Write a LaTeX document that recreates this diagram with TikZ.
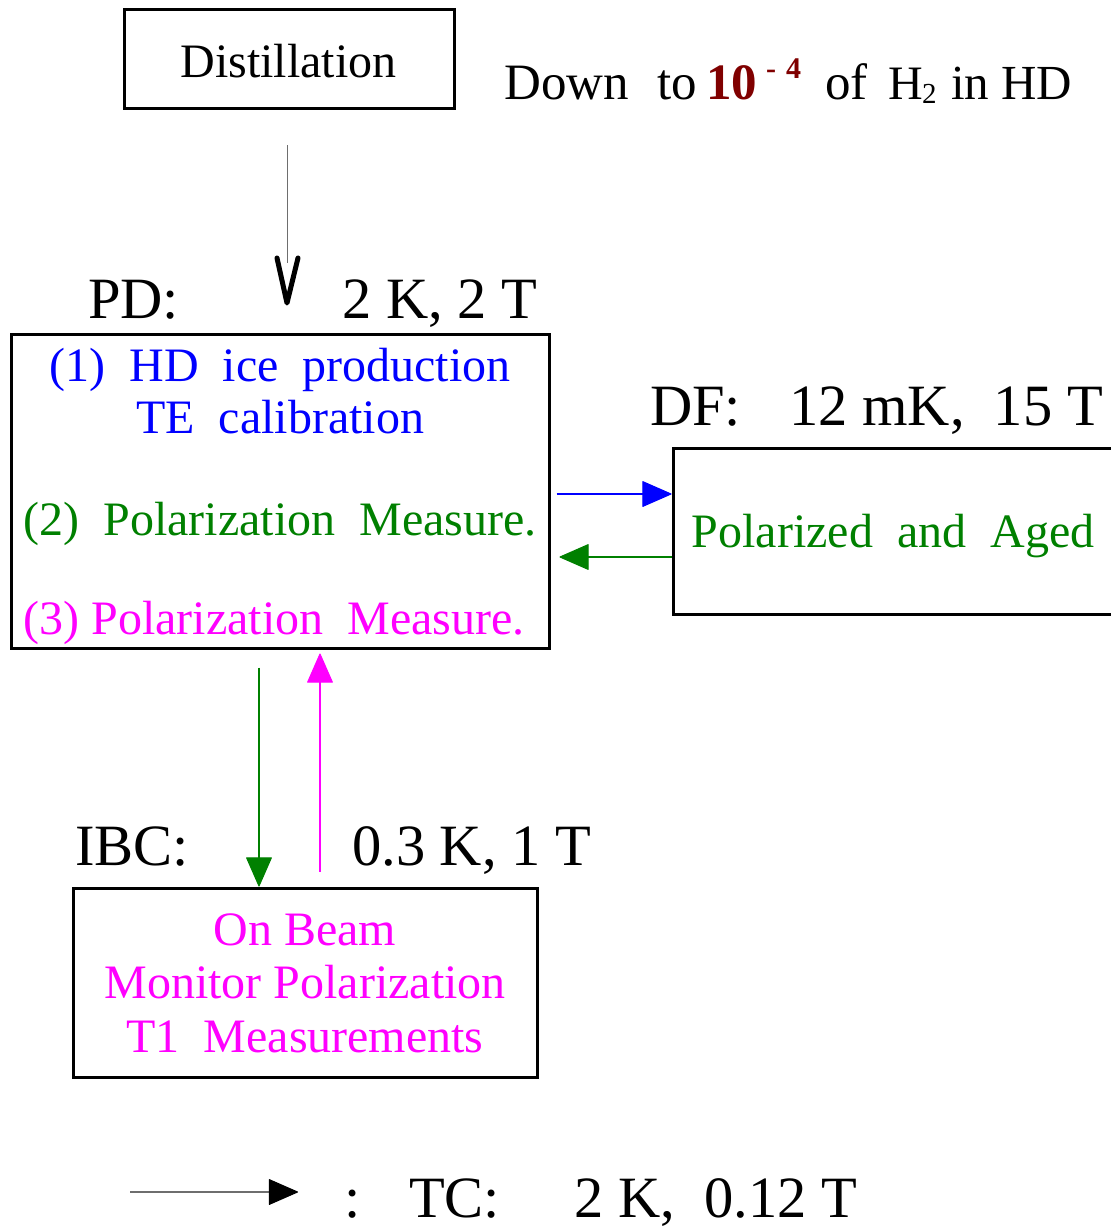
\documentclass[tikz,border=0pt]{standalone}
\usepackage{fontspec}
\setmainfont{Liberation Serif}
\usetikzlibrary{arrows.meta}
\definecolor{pblue}{RGB}{0,0,255}
\definecolor{pgreen}{RGB}{0,128,0}
\definecolor{pmag}{RGB}{255,0,255}
\definecolor{dred}{RGB}{128,0,0}
\definecolor{lgray}{RGB}{110,110,110}
\begin{document}
\begin{tikzpicture}[x=1pt,y=-1pt,
  box/.style={draw=black,line width=3pt,inner sep=0pt,line join=miter},
  txt/.style={inner sep=0pt,anchor=base},
  txtw/.style={inner sep=0pt,anchor=base west},
  big/.style={font=\fontsize{58.5}{60}\selectfont},
  mid/.style={font=\fontsize{48}{52}\selectfont},
  dwn/.style={font=\fontsize{51}{54}\selectfont},
  sml/.style={font=\fontsize{30}{32}\selectfont\bfseries},
  tip/.style={-{Triangle[length=30pt,width=26pt,round]}},
  conn/.style={line width=1.1pt,tip}]
\clip (0,0) rectangle (1111,1229);
\fill[white] (0,0) rectangle (1111,1229);

% boxes
\node[box,minimum width=330pt,minimum height=99pt] (dist) at (289,58.5) {};
\node[box,minimum width=538pt,minimum height=314pt] (pd) at (280,491) {};
\node[box,minimum width=452pt,minimum height=166pt] (df) at (899,531) {};
\node[box,minimum width=464pt,minimum height=189pt] (ibc) at (305,982.5) {};

% Distillation
\node[txt,mid] (tdist) at (288.5,77) {Distillation};

% Down to ... line
\node[txtw,dwn] (tdown) at (504,99) {Down};
\node[txtw,dwn] (tto) at (657,99) {to};
\node[txtw,dwn,text=dred,font=\fontsize{51}{54}\selectfont\bfseries] (tten) at (706,99) {10};
\node[txtw,sml,text=dred] (tminus) at (766,78) {-};
\node[txtw,sml,text=dred] (tfour) at (786,78) {4};
\node[txtw,dwn] (tof) at (825,99) {of};
\node[txtw,font=\fontsize{48}{52}\selectfont] (tH) at (888,99) {H};
\node[txtw,font=\fontsize{29}{32}\selectfont] (tsub) at (922,103) {2};
\node[txtw,font=\fontsize{49}{52}\selectfont] (tin) at (951,99) {in HD};

% Labels
\node[txtw,big] (lpd) at (88,318) {PD:};
\node[txtw,big] (lpdv) at (342,318) {2 K, 2 T};
\node[txtw,big] (ldf) at (650,425) {DF:};
\node[txtw,big] (ldfv) at (789,425) {12 mK,\ \ 15 T};
\node[txtw,big] (libc) at (75,865) {IBC:};
\node[txtw,big] (libcv) at (352,865) {0.3 K, 1 T};
\node[txtw,big] (lcolon) at (344,1217) {:};
\node[txtw,big] (ltc) at (409,1217) {TC:};
\node[txtw,big] (ltcv) at (574,1217) {2 K,\ \ 0.12 T};

% PD box texts
\node[txt,mid,text=pblue] (p1) at (280,381) {(1)\ \ HD\ \ ice\ \ production};
\node[txt,mid,text=pblue] (p1b) at (280,433) {TE\ \ calibration};
\node[txt,mid,text=pgreen] (p2) at (280,535) {(2)\ \ Polarization\ \ Measure.};
\node[txt,mid,text=pmag] (p3) at (274,634) {(3) Polarization\ \ Measure.};

% DF text
\node[txt,mid,text=pgreen] (dft) at (893,547) {Polarized\ \ and\ \ Aged};

% IBC texts
\node[txt,mid,text=pmag] (i1) at (305,945) {On Beam};
\node[txt,mid,text=pmag] (i2) at (305,998) {Monitor Polarization};
\node[txt,mid,text=pmag] (i3) at (305,1052) {T1\ \ Measurements};

% Distillation arrow
\coordinate (ds) at (287,145);
\coordinate (de) at (287,263);
\coordinate (vl) at (277,258);
\coordinate (vt) at (287,303);
\coordinate (vr) at (298,258);
\draw[lgray,line width=1pt] (ds) -- (de);
\draw[black,line width=5pt,line cap=round,line join=round] (vl) -- (vt) -- (vr);

% connectors
\draw[conn,pblue] ([xshift=6pt,yshift=-3pt]pd.east) -- ([yshift=37pt]df.west);
\draw[conn,pgreen] ([yshift=-26pt]df.west) -- ([xshift=9pt,yshift=-66pt]pd.east);
\draw[conn,pgreen] ([xshift=-21pt,yshift=-18pt]pd.south) -- ([xshift=-46pt]ibc.north);
\draw[conn,pmag] ([xshift=15pt,yshift=15pt]ibc.north) -- ([xshift=40pt,yshift=-4pt]pd.south);

% legend arrow
\coordinate (ls) at (130,1192);
\coordinate (le) at (298,1192);
\draw[line width=1.1pt,lgray,-{Triangle[length=30pt,width=26pt,round,color=black]}] (ls) -- (le);
\end{tikzpicture}
\end{document}
